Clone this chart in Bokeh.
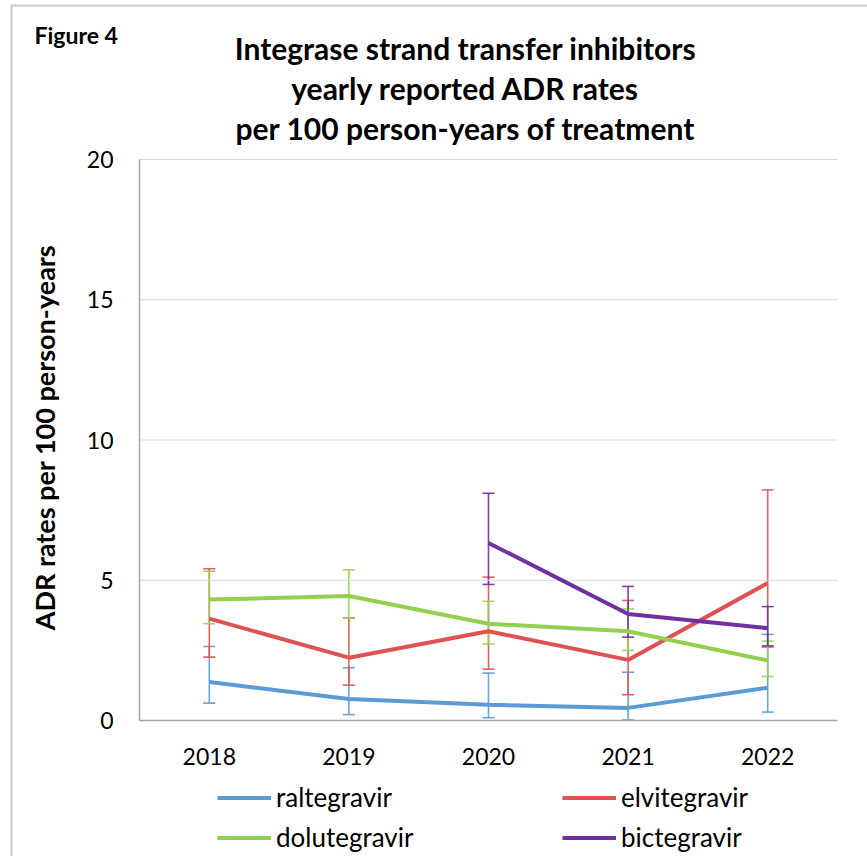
import math
from bokeh.plotting import figure
from bokeh.models import (ColumnDataSource, Whisker, TeeHead, Label, Legend, LegendItem,
                          Range1d, BoxAnnotation)
from bokeh.core.properties import value
from bokeh.embed import file_html
from bokeh.resources import INLINE

# Yearly ADR rates per 100 person-years with confidence limits
years = [2018, 2019, 2020, 2021, 2022]

raltegravir = [1.37, 0.77, 0.56, 0.45, 1.17]
raltegravir_lo = [0.62, 0.21, 0.10, 0.02, 0.30]
raltegravir_hi = [2.64, 1.88, 1.69, 1.72, 3.07]

elvitegravir = [3.63, 2.24, 3.18, 2.16, 4.90]
elvitegravir_lo = [2.26, 1.26, 1.83, 0.92, 2.62]
elvitegravir_hi = [5.41, 3.66, 5.11, 4.28, 8.22]

dolutegravir = [4.31, 4.44, 3.45, 3.18, 2.14]
dolutegravir_lo = [3.45, 3.66, 2.73, 2.50, 1.57]
dolutegravir_hi = [5.32, 5.37, 4.25, 3.98, 2.83]

bictegravir_years = [2020, 2021, 2022]
bictegravir = [6.33, 3.80, 3.29]
bictegravir_lo = [4.85, 2.97, 2.66]
bictegravir_hi = [8.10, 4.78, 4.06]

y_ticks = [0, 5, 10, 15, 20]
x_labels = [str(y) for y in years]
y_labels = [str(t) for t in y_ticks]

FONT = "Lato"

# canvas size and plot-area box in pixels
W, H = 867, 856
LEFT, RIGHT, TOP, BOTTOM = 139, 837, 159, 720

# value extent of the plot area
X_LO, X_HI = years[0] - 0.5, years[-1] + 0.5
Y_LO, Y_HI = y_ticks[0], y_ticks[-1]

px_x = (RIGHT - LEFT) / (X_HI - X_LO)
px_y = (BOTTOM - TOP) / (Y_HI - Y_LO)

# the frame fills the whole canvas so that headings and legend sit around the plot area
p = figure(width=W, height=H, output_backend="svg", toolbar_location=None,
           x_range=Range1d(X_LO - LEFT / px_x, X_HI + (W - RIGHT) / px_x),
           y_range=Range1d(Y_LO - (H - BOTTOM) / px_y, Y_HI + TOP / px_y),
           x_axis_location=None, y_axis_location=None, min_border=0)
p.outline_line_color = None
p.grid.visible = False
p.background_fill_color = "white"
p.border_fill_color = "white"

# horizontal gridlines
grid_vals = y_ticks[1:]
p.segment(x0=[X_LO] * len(grid_vals), x1=[X_HI] * len(grid_vals),
          y0=grid_vals, y1=grid_vals, line_color="#d9d9d9", line_width=1)

# axis lines
p.segment(x0=[X_LO, X_LO], y0=[Y_LO, Y_LO], x1=[X_LO, X_HI], y1=[Y_HI, Y_LO],
          line_color="#a6a6a6", line_width=1.5)

# tick labels
p.text(x=[X_LO] * len(y_ticks), y=y_ticks, text=y_labels, x_offset=-26,
       text_align="right", text_baseline="middle", text_font=value(FONT),
       text_font_size="23px", text_color="black")
p.text(x=years, y=[Y_LO] * len(years), text=x_labels, y_offset=36,
       text_align="center", text_baseline="middle", text_font=value(FONT),
       text_font_size="23px", text_color="black")

series = [
    ("raltegravir", years, raltegravir, raltegravir_lo, raltegravir_hi, "#5b9bd5"),
    ("elvitegravir", years, elvitegravir, elvitegravir_lo, elvitegravir_hi, "#e05252"),
    ("dolutegravir", years, dolutegravir, dolutegravir_lo, dolutegravir_hi, "#92d050"),
    ("bictegravir", bictegravir_years, bictegravir, bictegravir_lo, bictegravir_hi, "#7030a0"),
]

renderers = {}
for name, xs, ys, lo, hi, color in series:
    src = ColumnDataSource(dict(x=xs, y=ys, lower=lo, upper=hi))
    head = dict(size=12, line_color=color, line_width=1.6, line_alpha=0.9)
    p.add_layout(Whisker(base="x", upper="upper", lower="lower", source=src,
                         line_color=color, line_width=1.6, line_alpha=0.9,
                         upper_head=TeeHead(**head), lower_head=TeeHead(**head)))
    renderers[name] = p.line("x", "y", source=src, line_color=color, line_width=4)

# legend: two columns under the plot
def add_legend(names, left_px):
    items = [LegendItem(label=n, renderers=[renderers[n]]) for n in names]
    p.add_layout(Legend(items=items, location=(left_px, 3), orientation="vertical",
                        label_text_font=FONT, label_text_font_size="26px",
                        label_text_color="black", label_text_baseline="middle",
                        glyph_width=54, glyph_height=25, label_height=25,
                        label_standoff=5, spacing=8, padding=0, margin=0,
                        border_line_color=None, background_fill_alpha=0))

add_legend(["raltegravir", "dolutegravir"], 217)
add_legend(["elvitegravir", "bictegravir"], 562)

# heading
title_lines = ["Integrase strand transfer inhibitors",
               "yearly reported ADR rates",
               "per 100 person-years of treatment"]
for i, t in enumerate(title_lines):
    p.add_layout(Label(x=465, y=H - (47 + 40 * i), x_units="screen", y_units="screen",
                       text=t, text_font=FONT, text_font_size="30px", text_font_style="bold",
                       text_align="center", text_baseline="middle", text_color="black"))

p.add_layout(Label(x=34, y=H - 34, x_units="screen", y_units="screen",
                   text="Figure 4", text_font=FONT, text_font_size="23px", text_font_style="bold",
                   text_align="left", text_baseline="middle", text_color="black"))

# y axis title
p.add_layout(Label(x=44, y=H - 437, x_units="screen", y_units="screen",
                   text="ADR rates per 100 person-years", angle=math.pi / 2,
                   text_font=FONT, text_font_size="27px", text_font_style="bold",
                   text_align="center", text_baseline="middle", text_color="black"))

# outer frame of the figure panel
p.add_layout(BoxAnnotation(left=11, right=W + 20, bottom=-20, top=H - 5,
                           left_units="screen", right_units="screen",
                           bottom_units="screen", top_units="screen",
                           fill_alpha=0, line_color="#505050", line_width=2))

open("out.html", "w").write(file_html(p, INLINE))
